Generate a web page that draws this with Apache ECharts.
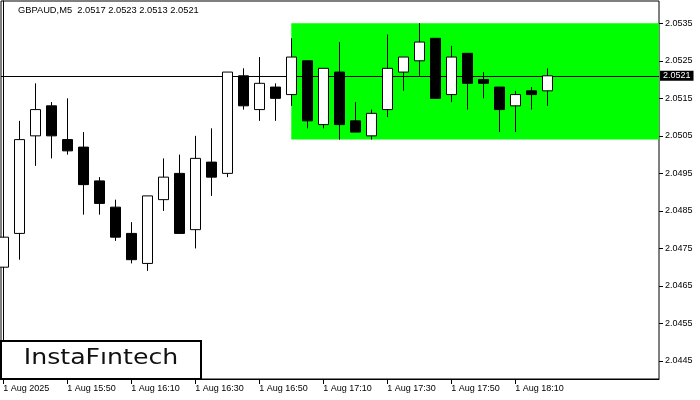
<!DOCTYPE html>
<html><head><meta charset="utf-8">
<script src="https://cdn.jsdelivr.net/npm/echarts@6/dist/echarts.min.js"></script>
<style>html,body{margin:0;padding:0;background:#fff}#c{width:700px;height:400px}</style>
</head><body><div id="c"></div>
<script>
// 5-minute bars, 1 Aug 2025, 15:30 .. 18:20
var opens  = [2.0470,2.0479,2.0505,2.0513,2.0504,2.0502,2.0493,2.0486,2.0479,2.0471,2.0488,2.0495,2.0480,2.0498,2.0495,2.0521,2.0512,2.0518,2.0516,2.0525,2.0508,2.0522,2.0509,2.0505,2.0512,2.0522,2.0525,2.0531,2.0516,2.0527,2.0520,2.0518,2.0513,2.0517,2.0517];
var closes = [2.0478,2.0504,2.0512,2.0505,2.0501,2.0492,2.0487,2.0478,2.0472,2.0489,2.0494,2.0479,2.0499,2.0494,2.0522,2.0513,2.0519,2.0515,2.0526,2.0509,2.0523,2.0508,2.0506,2.0511,2.0523,2.0526,2.0530,2.0515,2.0526,2.0519,2.0519,2.0512,2.0516,2.0516,2.0521];
var lows   = [2.0468,2.0472,2.0497,2.0499,2.0500,2.0484,2.0484,2.0477,2.0471,2.0469,2.0485,2.0479,2.0475,2.0489,2.0494,2.0512,2.0509,2.0509,2.0513,2.0507,2.0507,2.0504,2.0506,2.0504,2.0510,2.0517,2.0521,2.0515,2.0514,2.0512,2.0515,2.0506,2.0506,2.0512,2.0513];
var highs  = [2.0480,2.0509,2.0519,2.0514,2.0515,2.0506,2.0494,2.0488,2.0482,2.0489,2.0499,2.0500,2.0505,2.0507,2.0522,2.0523,2.0526,2.0519,2.0531,2.0525,2.0523,2.0530,2.0514,2.0512,2.0532,2.0526,2.0535,2.0531,2.0529,2.0527,2.0522,2.0518,2.0517,2.0518,2.0523];
var tickLabels = ['1 Aug 2025','1 Aug 15:50','1 Aug 16:10','1 Aug 16:30','1 Aug 16:50','1 Aug 17:10','1 Aug 17:30','1 Aug 17:50','1 Aug 18:10'];
var priceTicks = [2.0445,2.0455,2.0465,2.0475,2.0485,2.0495,2.0505,2.0515,2.0525,2.0535];
var zoneStartBar = 18;
var zoneTop = 2.0535, zoneBottom = 2.0504;
var title = 'GBPAUD,M5  2.0517 2.0523 2.0513 2.0521';

var candles = opens.map(function(o,i){ return [i, o, closes[i], lows[i], highs[i]]; });
var tickIdx = tickLabels.map(function(_,i){ return i*4; });
var lastClose = closes[closes.length-1];

var xMin = -0.144, xMax = xMin + 658/16;
var FONT = 'Liberation Sans';

var baseGraphics = [
  {type:'text',left:18,top:6,style:{text:title,fill:'#000',font:'9.3px "Liberation Sans"'}},
  {type:'rect',shape:{x:1,y:341,width:200,height:38},style:{fill:'#fff',stroke:'#000',lineWidth:2},z:100},
  {type:'text',x:101,y:359,scaleX:1.2,z:101,style:{text:'InstaFıntech',fill:'#111',align:'center',verticalAlign:'middle',font:'21px "DejaVu Sans"'}}
];

var chart = echarts.init(document.getElementById('c'), null, {renderer:'canvas'});
chart.setOption({
  animation:false,
  backgroundColor:'#fff',
  grid:{left:1,right:41,top:1,bottom:21,show:true,borderColor:'#000',borderWidth:1,backgroundColor:'#fff'},
  xAxis:{type:'value',min:xMin,max:xMax,
    axisLine:{show:true,lineStyle:{color:'#000',width:1}},
    axisTick:{show:true,length:5,lineStyle:{color:'#000'},customValues:tickIdx},
    axisLabel:{customValues:tickIdx,align:'left',margin:5,color:'#000',fontFamily:FONT,fontSize:9,
      formatter:function(v){ var k=tickIdx.indexOf(Math.round(v)); return k>=0?tickLabels[k]:''; }},
    splitLine:{show:false}},
  yAxis:{type:'value',position:'right',min:2.044020,max:2.054094,
    axisLine:{show:true,lineStyle:{color:'#000',width:1}},
    axisTick:{show:false},
    axisLabel:{customValues:priceTicks,margin:6,color:'#000',fontFamily:FONT,fontSize:9,
      formatter:function(v){return v.toFixed(4);}},
    splitLine:{show:false}},
  series:[{
    type:'candlestick',
    data:candles,
    encode:{x:0,y:[1,2,3,4]},
    barWidth:10,
    clip:true,
    z:10,
    itemStyle:{color:'#fff',color0:'#000',borderColor:'#000',borderColor0:'#000',borderWidth:1},
    markArea:{silent:true,z:1,itemStyle:{color:'#00ff00',opacity:1},
      data:[[{xAxis:zoneStartBar,yAxis:zoneTop},{xAxis:xMax,yAxis:zoneBottom}]]},
    markLine:{silent:true,z:5,symbol:['none','none'],
      lineStyle:{color:'#000',width:1,type:'solid'},
      label:{show:true,position:'end',distance:1,formatter:function(){return lastClose.toFixed(4);},
        color:'#fff',backgroundColor:'#000',padding:[1,3,0,3],fontFamily:FONT,fontSize:9,lineHeight:9},
      emphasis:{disabled:true},
      data:[[{coord:[xMin,lastClose]},{coord:[xMax,lastClose]}]]}
  }],
  graphic:baseGraphics
});

// price-axis tick marks on the right side, placed through the y scale
var gridRight = 700 - 41;
var tickGraphics = priceTicks.map(function(v){
  var y = Math.round(chart.convertToPixel({yAxisIndex:0}, v)) + 0.5;
  return {type:'line',shape:{x1:gridRight,y1:y,x2:gridRight+4,y2:y},style:{stroke:'#000',lineWidth:1},z:50};
});
chart.setOption({graphic:baseGraphics.concat(tickGraphics)});
</script></body></html>
